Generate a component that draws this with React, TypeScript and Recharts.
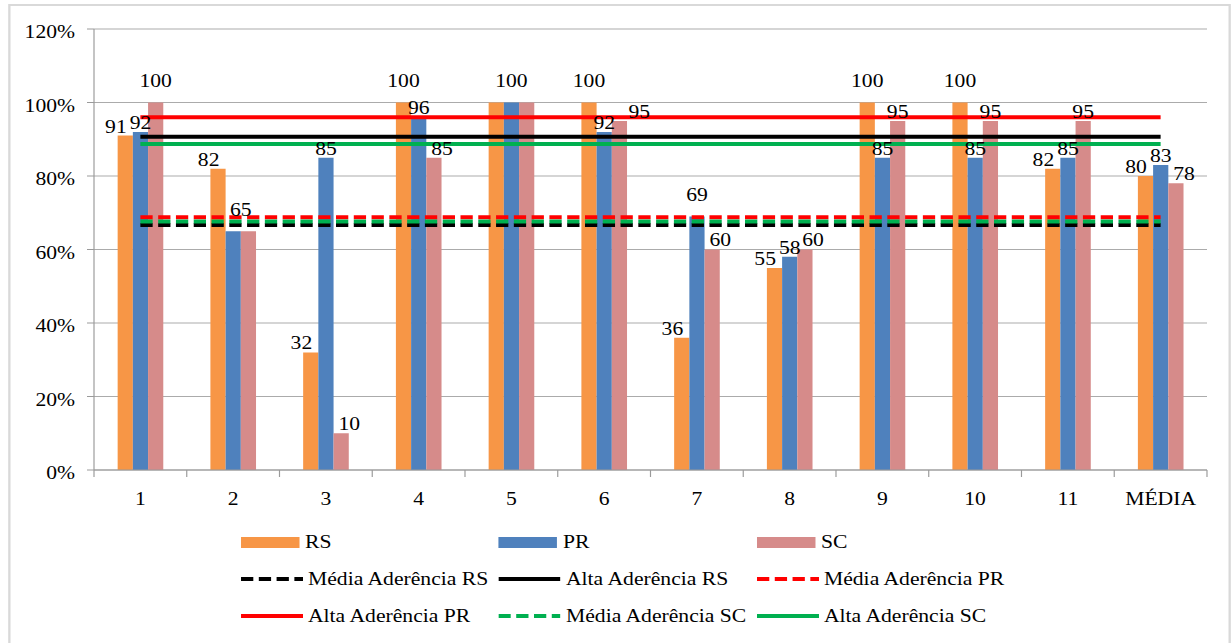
import React from 'react';
import { ComposedChart, Bar, Line, XAxis, YAxis, CartesianGrid, Legend, LabelList } from 'recharts';

// ---------- data ----------
const categories = ['1', '2', '3', '4', '5', '6', '7', '8', '9', '10', '11', 'MÉDIA'];
const rsValues = [91, 82, 32, 100, 100, 100, 36, 55, 100, 100, 82, 80];
const prValues = [92, 65, 85, 96, 100, 92, 69, 58, 85, 85, 85, 83];
const scValues = [100, 65, 10, 85, 100, 95, 60, 60, 95, 95, 95, 78];

const mediaAderenciaRS = 66.7;
const altaAderenciaRS = 90.7;
const mediaAderenciaPR = 68.8;
const altaAderenciaPR = 96;
const mediaAderenciaSC = 67.6;
const altaAderenciaSC = 88.7;

const yTicks = [0, 20, 40, 60, 80, 100, 120];

const barSeries = [
  { key: 'RS', name: 'RS', color: '#F79646' },
  { key: 'PR', name: 'PR', color: '#4F81BD' },
  { key: 'SC', name: 'SC', color: '#D68B8A' },
];

const lineSeries = [
  { key: 'mediaRS', name: 'Média Aderência RS', color: '#000000', dashed: true, value: mediaAderenciaRS },
  { key: 'altaRS', name: 'Alta Aderência RS', color: '#000000', dashed: false, value: altaAderenciaRS },
  { key: 'mediaPR', name: 'Média Aderência PR', color: '#FF0000', dashed: true, value: mediaAderenciaPR },
  { key: 'altaPR', name: 'Alta Aderência PR', color: '#FF0000', dashed: false, value: altaAderenciaPR },
  { key: 'mediaSC', name: 'Média Aderência SC', color: '#00B050', dashed: true, value: mediaAderenciaSC },
  { key: 'altaSC', name: 'Alta Aderência SC', color: '#00B050', dashed: false, value: altaAderenciaSC },
];

const data = categories.map((cat, i) => {
  const row: Record<string, any> = { cat, RS: rsValues[i], PR: prValues[i], SC: scValues[i] };
  lineSeries.forEach((s) => {
    row[s.key] = s.value;
  });
  return row;
});

// ---------- layout / style ----------
const S = 1.17; // horizontal stretch of the original picture
const FULL_W = 1232;
const FULL_H = 643;
const W = FULL_W / S;
const FONT = '"Liberation Serif", "Times New Roman", Tinos, serif';
const FS = 18.5;
const DASH = '10.5 4.7';
const GRID = '#ABABAB';
const AXIS = '#9A9A9A';

const PLOT_LEFT = 94 / S;
const PLOT_RIGHT_MARGIN = (FULL_W - 1207) / S;
const X_TICK_SIZE = 6;
const X_TICK_MARGIN = 16;
const BAND_HALF = (W - PLOT_LEFT - PLOT_RIGHT_MARGIN) / categories.length / 2;

const XTick = (props: any) => {
  const { x, y, payload, index, visibleTicksCount } = props;
  const half = payload && typeof payload.offset === 'number' && payload.offset > 0 ? payload.offset : BAND_HALF;
  const axisY = y - X_TICK_SIZE - X_TICK_MARGIN;
  const isLast = index === (visibleTicksCount ?? categories.length) - 1;
  return (
    <g>
      <line x1={x - half} x2={x - half} y1={axisY} y2={axisY + 7} stroke={AXIS} strokeWidth={1} />
      {isLast && <line x1={x + half} x2={x + half} y1={axisY} y2={axisY + 7} stroke={AXIS} strokeWidth={1} />}
      <text x={x} y={y} dy="0.71em" textAnchor="middle" fontFamily={FONT} fontSize={FS} fill="#000">
        {payload.value}
      </text>
    </g>
  );
};

const YTick = (props: any) => {
  const { x, y, payload } = props;
  return (
    <text x={x} y={y} dy={9.3} textAnchor="end" fontFamily={FONT} fontSize={FS} fill="#000">
      {`${payload.value}%`}
    </text>
  );
};

// label placement heuristics (lift labels clear of the reference lines, nudge neighbours apart)
const makeLabel = (key: string) => (props: any) => {
  const { x, y, width, value, index } = props;
  const row = data[index];
  if (row && key !== 'PR' && row.PR === value) return null;
  const v = Number(value);
  const lifted = v >= 99 || (v >= 64 && v <= 70);
  const gap = lifted ? 15 : 3;
  let dx = 0;
  if (key === 'RS' && v < 99) dx = -8;
  if (key === 'SC' && row) {
    if (v >= 90 && Math.abs(v - row.PR) <= 4) dx = 17;
    else if (v < 90) dx = 7;
  }
  if (key === 'PR' && row && row.SC === v && row.RS !== v) dx = Number(width) / 2;
  return (
    <text
      x={Number(x) + Number(width) / 2 + dx}
      y={Number(y) - gap}
      textAnchor="middle"
      fontFamily={FONT}
      fontSize={FS}
      fill="#000"
    >
      {value}
    </text>
  );
};

const legendItems = [
  ...barSeries.map((b) => ({ name: b.name, color: b.color, kind: 'bar' as const, dashed: false })),
  ...lineSeries.map((l) => ({ name: l.name, color: l.color, kind: 'line' as const, dashed: l.dashed })),
];

const LegendContent = () => (
  <div
    style={{
      display: 'grid',
      gridTemplateColumns: `repeat(3, ${258 / S}px)`,
      gridAutoRows: '36.75px',
      fontFamily: FONT,
      fontSize: FS,
      color: '#000',
    }}
  >
    {legendItems.map((it) => (
      <div key={it.name} style={{ display: 'flex', alignItems: 'center', lineHeight: '20px', whiteSpace: 'nowrap' }}>
        {it.kind === 'bar' ? (
          <div style={{ width: 58 / S, height: 11, background: it.color, marginRight: 6 / S, flex: 'none' }} />
        ) : (
          <svg width={62 / S} height={6} style={{ marginRight: 5 / S, flex: 'none', display: 'block' }}>
            <line
              x1={0}
              x2={62 / S}
              y1={3}
              y2={3}
              stroke={it.color}
              strokeWidth={4}
              strokeDasharray={it.dashed ? DASH : undefined}
            />
          </svg>
        )}
        <span>{it.name}</span>
      </div>
    ))}
  </div>
);

export default function App() {
  return (
    <div style={{ position: 'absolute', left: 0, top: 0, width: FULL_W, height: FULL_H, overflow: 'hidden', background: '#fff' }}>
      <div
        style={{
          position: 'absolute',
          left: 0,
          top: 0,
          width: W,
          height: FULL_H,
          transform: `scaleX(${S})`,
          transformOrigin: '0 0',
        }}
      >
        <div
          style={{
            position: 'absolute',
            left: 8 / S,
            top: 4,
            width: (1231 - 8) / S,
            height: 660,
            border: '2px solid #D9D9D9',
            boxSizing: 'border-box',
          }}
        />
        <div style={{ position: 'absolute', left: 0, top: 0 }}>
          <ComposedChart
            width={W}
            height={FULL_H}
            data={data}
            margin={{ top: 29, right: PLOT_RIGHT_MARGIN, bottom: FULL_H - 470 - 30, left: 0 }}
            barCategoryGap="25.5%"
            barGap={0}
          >
            <CartesianGrid vertical={false} stroke={GRID} strokeWidth={1} />
            <XAxis
              dataKey="cat"
              height={30}
              axisLine={{ stroke: AXIS, strokeWidth: 1 }}
              tickLine={false}
              tickSize={X_TICK_SIZE}
              tickMargin={X_TICK_MARGIN}
              tick={<XTick />}
              interval={0}
            />
            <YAxis
              width={PLOT_LEFT}
              domain={[0, 120]}
              ticks={yTicks}
              allowDataOverflow
              axisLine={{ stroke: AXIS, strokeWidth: 1 }}
              tickLine={{ stroke: AXIS, strokeWidth: 1 }}
              tickSize={6}
              tickMargin={10.2}
              tick={<YTick />}
              interval={0}
            />
            {barSeries.map((b) => (
              <Bar key={b.key} dataKey={b.key} name={b.name} fill={b.color} isAnimationActive={false}>
                <LabelList dataKey={b.key} content={makeLabel(b.key)} />
              </Bar>
            ))}
            {lineSeries.map((l) => (
              <Line
                key={l.key}
                dataKey={l.key}
                name={l.name}
                stroke={l.color}
                strokeWidth={4}
                strokeDasharray={l.dashed ? DASH : undefined}
                dot={false}
                activeDot={false}
                isAnimationActive={false}
              />
            ))}
            <Legend
              layout="horizontal"
              align="center"
              verticalAlign="middle"
              content={<LegendContent />}
              wrapperStyle={{ left: 241 / S, top: 524, width: (3 * 258) / S, height: 112 }}
            />
          </ComposedChart>
        </div>
      </div>
    </div>
  );
}
